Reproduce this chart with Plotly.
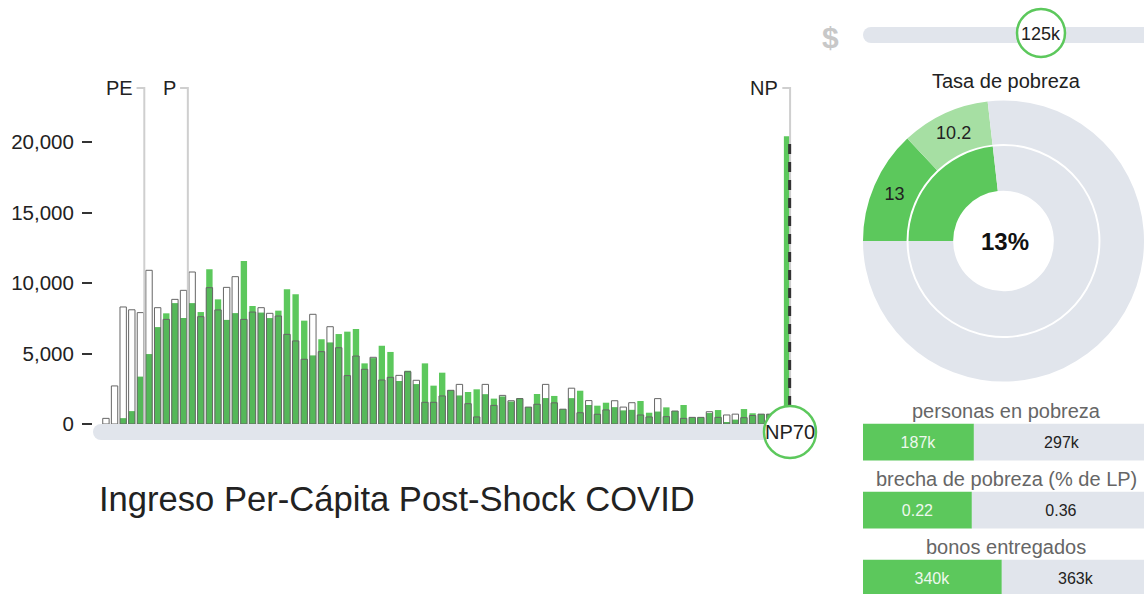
import plotly.graph_objects as go

W, H = 1144, 594

# histogram of per-capita income, 80 bins
bins = list(range(1, 81))
post_shock = [0, 0, 400, 900, 3350, 4950, 6860, 7850, 8560, 7520,
              8560, 7940, 10970, 8840, 7380, 7850, 11560, 8370, 7890, 7500,
              8040, 9550, 9200, 7330, 4850, 6010, 5770, 6380, 6550, 6740,
              4300, 4660, 5550, 5110, 3050, 3780, 2820, 4300, 2720, 3640,
              2390, 2010, 2270, 2460, 2100, 1800, 1940, 1580, 1840, 1200,
              2130, 1830, 1990, 1050, 1820, 2360, 1350, 1300, 1510, 1180,
              950, 1000, 1630, 800, 870, 1180, 920, 1350, 470, 470,
              770, 990, 100, 300, 1060, 760, 710, 710, 600, 20400]
pre_shock = [400, 2700, 8300, 8100, 7900, 10900, 8250, 7420, 8840, 9480,
             10780, 7610, 9670, 8090, 9690, 10450, 7420, 7940, 8250, 7850,
             7660, 6360, 5890, 4590, 7780, 5130, 6900, 5410, 3430, 4820,
             3880, 4730, 3120, 3310, 3450, 3710, 3100, 1540, 1540, 1990,
             2390, 2810, 1440, 500, 2810, 1320, 2030, 1650, 1800, 1200,
             1400, 2810, 1500, 1050, 2540, 800, 1660, 690, 1000, 1650,
             1200, 1510, 640, 500, 1800, 520, 920, 400, 470, 470,
             870, 470, 640, 700, 450, 600, 700, 700, 500, 20300]

line_names = ["PE", "P", "NP"]
line_pos = [5.45, 10.5, 80.35]
line_top = 23830

ring_labels = ["13", "10.2"]
ring_values = [13, 10.2]
rate_text = "13%"

stat_names = ["personas en pobreza", "brecha de pobreza (% de LP)", "bonos entregados"]
stat_now = [187, 0.22, 340]
stat_rest = [297, 0.36, 363]
stat_now_txt = ["187k", "0.22", "340k"]
stat_rest_txt = ["297k", "0.36", "363k"]

slider_text = "125k"
np_text = "NP70"
title = "Ingreso Per-Cápita Post-Shock COVID"

GREEN = "#5cc85c"
GREEN_DARK = "#55b859"
GREEN_LIGHT = "#a6dfa3"
TRACK = "#e1e5ec"
FONT = "Liberation Sans, Arial, sans-serif"


def fx(x):
    return x / W


def fy(y):
    return 1 - y / H


fig = go.Figure()

# reference lines (PE, P, NP)
for name, pos in zip(line_names, line_pos):
    fig.add_scatter(x=[pos - 0.9, pos, pos], y=[line_top, line_top, 0], mode="lines",
                    line=dict(color="#cfcfcf", width=2), hoverinfo="skip")
    fig.add_annotation(x=pos - 0.9, y=line_top, text=name, showarrow=False,
                       xanchor="right", yanchor="middle", xshift=-2,
                       font=dict(size=20, color="#222"))

# post-shock bars
fig.add_bar(x=bins, y=post_shock, width=0.74, marker=dict(color=GREEN, line_width=0))
# overlap zone drawn darker
overlap = [min(a, b) for a, b in zip(post_shock, pre_shock)]
fig.add_bar(x=bins, y=overlap, width=0.74,
            marker=dict(color=[GREEN_DARK] * (len(bins) - 1) + ["rgba(0,0,0,0)"], line_width=0))
# pre-shock outlines
fig.add_bar(x=bins, y=pre_shock, width=0.74,
            marker=dict(color="rgba(0,0,0,0)",
                        line=dict(color=["#666"] * (len(bins) - 1) + ["rgba(0,0,0,0)"], width=1)))
# last bin pre-shock as dashed edge
fig.add_scatter(x=[bins[-1] + 0.3] * 2, y=[0, pre_shock[-1]], mode="lines",
                line=dict(color="#333", width=3, dash="10px,8px"), hoverinfo="skip")

# donut
fig.add_pie(values=ring_values + [100 - sum(ring_values)], hole=0.69, sort=False,
            direction="clockwise", rotation=270,
            domain=dict(x=[fx(863), 1], y=[fy(384), fy(98)]),
            marker=dict(colors=[GREEN, GREEN_LIGHT, TRACK], line_width=0),
            text=ring_labels + [""], textinfo="text", insidetextorientation="horizontal",
            textfont=dict(size=18, color="#222", family=FONT), hoverinfo="skip")
fig.add_pie(values=[sum(ring_values), 100 - sum(ring_values)], hole=0.53, sort=False,
            direction="clockwise", rotation=270,
            domain=dict(x=[fx(908.5), fx(1098.5)], y=[fy(336), fy(146)]),
            marker=dict(colors=[GREEN, TRACK], line_width=0), textinfo="none", hoverinfo="skip")

# stat bars
tot = [a + b for a, b in zip(stat_now, stat_rest)]
frac_now = [a / t for a, t in zip(stat_now, tot)]
frac_rest = [b / t for b, t in zip(stat_rest, tot)]
fig.add_bar(x=frac_now, y=stat_names, orientation="h", width=0.54, xaxis="x2", yaxis="y2",
            marker=dict(color=GREEN, line_width=0), text=stat_now_txt, textposition="inside",
            insidetextanchor="middle", textfont=dict(size=16, color="#eef8ee", family=FONT))
fig.add_bar(x=frac_rest, y=stat_names, base=frac_now, orientation="h", width=0.54,
            xaxis="x2", yaxis="y2", marker=dict(color=TRACK, line_width=0), text=stat_rest_txt,
            textposition="inside", insidetextanchor="middle",
            textfont=dict(size=16, color="#222", family=FONT))
for name in stat_names:
    fig.add_annotation(xref="paper", yref="y2", x=fx(1006), y=name, yshift=31, text=name,
                       showarrow=False, xanchor="center", yanchor="middle",
                       font=dict(size=20, color="#666"))

shapes = [
    # histogram base track
    dict(type="rect", xref="paper", yref="paper", x0=fx(101), x1=fx(787), y0=fy(440), y1=fy(424),
         fillcolor=TRACK, line_width=0, layer="below"),
    dict(type="circle", xref="paper", yref="paper", x0=fx(93), x1=fx(109), y0=fy(440), y1=fy(424),
         fillcolor=TRACK, line_width=0, layer="below"),
    # NP70 handle
    dict(type="circle", xref="paper", yref="paper", x0=fx(764), x1=fx(816), y0=fy(458), y1=fy(406),
         fillcolor="white", line=dict(color=GREEN, width=2.5)),
    # slider track
    dict(type="rect", xref="paper", yref="paper", x0=fx(871), x1=1, y0=fy(43), y1=fy(27),
         fillcolor=TRACK, line_width=0, layer="below"),
    dict(type="circle", xref="paper", yref="paper", x0=fx(863), x1=fx(879), y0=fy(43), y1=fy(27),
         fillcolor=TRACK, line_width=0, layer="below"),
    dict(type="circle", xref="paper", yref="paper", x0=fx(1017), x1=fx(1065), y0=fy(57), y1=fy(9),
         fillcolor="white", line=dict(color=GREEN, width=2.5)),
]

annos = [
    dict(x=fx(790), y=fy(432), text=np_text, font=dict(size=20, color="#222")),
    dict(x=fx(1041), y=fy(34), text=slider_text, font=dict(size=18, color="#222")),
    dict(x=fx(830), y=fy(37), text="<b>$</b>", font=dict(size=30, color="#c8c8c8")),
    dict(x=fx(1006), y=fy(81), text="Tasa de pobreza", font=dict(size=20, color="#222")),
    dict(x=fx(1005), y=fy(241), text="<b>" + rate_text + "</b>", font=dict(size=24, color="#111")),
    dict(x=fx(97), y=fy(499), text=title, xanchor="left", font=dict(size=34.6, color="#222")),
]
for a in annos:
    a.setdefault("xanchor", "center")
    a.update(xref="paper", yref="paper", showarrow=False, yanchor="middle")
    fig.add_annotation(**a)

fig.update_layout(
    autosize=True, margin=dict(l=0, r=0, t=0, b=0),
    paper_bgcolor="white", plot_bgcolor="white",
    showlegend=False, barmode="overlay",
    font=dict(family=FONT, color="#222"),
    shapes=shapes,
    xaxis=dict(domain=[fx(93), fx(800)], range=[-0.5, 81.5], visible=False),
    yaxis=dict(domain=[fy(424), fy(85)], range=[0, 24043], showgrid=False, zeroline=False,
               tickvals=[0, 5000, 10000, 15000, 20000], tickformat=",", ticks="outside",
               ticklen=10, tickwidth=2, tickcolor="#333", ticklabelstandoff=4,
               tickfont=dict(size=20.5, color="#222")),
    xaxis2=dict(domain=[fx(863), 1], range=[0, 281 / 287], visible=False, anchor="y2"),
    yaxis2=dict(domain=[0, fy(400)], range=[2.235, -0.618], visible=False,
                anchor="x2", type="category"),
)

page_fix = (
    "document.body.style.margin='0';"
    "var gd=document.getElementById('{plot_id}');"
    "gd.style.position='fixed';gd.style.top='0';gd.style.left='0';"
)
fig.write_html("out.html", config={"displayModeBar": False},
               default_width="1144px", default_height="605px", post_script=page_fix)
